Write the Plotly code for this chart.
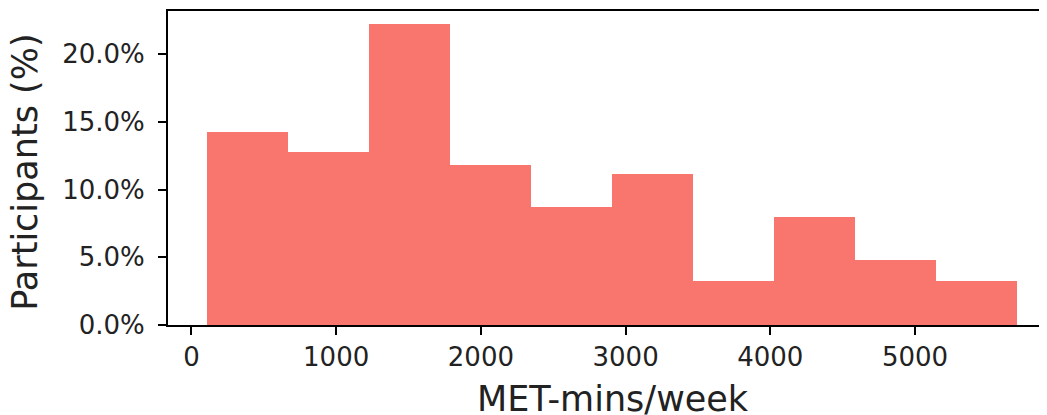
import plotly.graph_objects as go

# Histogram data
bin_edges = [105, 665, 1225, 1785, 2345, 2905, 3465, 4025, 4585, 5145, 5705]
percent_participants = [14.25, 12.75, 22.25, 11.85, 8.75, 11.15, 3.25, 8.0, 4.8, 3.25]
x_tick_values = [0, 1000, 2000, 3000, 4000, 5000]
y_tick_values = [0, 5, 10, 15, 20]
x_label = "MET-mins/week"
y_label = "Participants (%)"

centers = [(a + b) / 2 for a, b in zip(bin_edges[:-1], bin_edges[1:])]
widths = [b - a for a, b in zip(bin_edges[:-1], bin_edges[1:])]
y_tick_text = [f"{v:.1f}%" for v in y_tick_values]

FONT = "DejaVu Sans"
INK = "#222222"

fig = go.Figure()
fig.add_trace(go.Bar(
    x=centers,
    y=percent_participants,
    width=widths,
    marker=dict(color="#F8766D", line=dict(width=0)),
    showlegend=False,
))

# The page body adds an 8px margin, so the figure is 8px smaller
fig.update_layout(
    width=1039,
    height=407,
    margin=dict(l=160, r=0, t=3, b=90, autoexpand=False),
    paper_bgcolor="white",
    plot_bgcolor="white",
    bargap=0,
    font=dict(family=FONT, color=INK),
)

fig.update_xaxes(
    range=[-162, 5912],
    tickvals=x_tick_values,
    ticks="outside",
    ticklen=8,
    tickwidth=2,
    tickcolor="black",
    tickfont=dict(size=26, family=FONT, color=INK),
    showline=True,
    linecolor="black",
    linewidth=2,
    mirror=True,
    showgrid=False,
    zeroline=False,
    automargin=False,
)

fig.update_yaxes(
    range=[0, 23.2],
    tickvals=y_tick_values,
    ticktext=y_tick_text,
    ticks="outside",
    ticklen=8,
    tickwidth=2,
    tickcolor="black",
    tickfont=dict(size=26, family=FONT, color=INK),
    ticklabelstandoff=8,
    showline=True,
    linecolor="black",
    linewidth=2,
    showgrid=False,
    zeroline=False,
    automargin=False,
)

# Axis titles
fig.add_annotation(
    text=x_label, xref="paper", yref="paper", x=0.5063, y=-0.2357,
    xanchor="center", yanchor="middle", showarrow=False, borderpad=0,
    font=dict(size=35, family=FONT, color=INK),
)
fig.add_annotation(
    text=y_label, xref="paper", yref="paper", x=-0.1631, y=0.487,
    xanchor="center", yanchor="middle", showarrow=False, textangle=-90, borderpad=0,
    font=dict(size=35, family=FONT, color=INK),
)

fig.write_html("out.html")
